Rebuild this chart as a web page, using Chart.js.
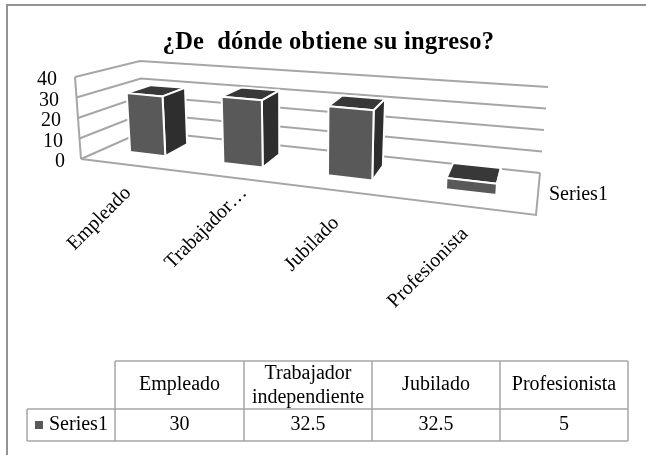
<!DOCTYPE html>
<html><head><meta charset="utf-8">
<style>html,body{margin:0;padding:0;background:#fff}#w{width:646px;height:455px;position:relative}canvas{filter:blur(.45px)}</style>
<script src="https://cdn.jsdelivr.net/npm/chart.js@4"></script></head>
<body><div id="w"><canvas id="c" width="646" height="455"></canvas></div>
<script>
const categories=['Empleado','Trabajador independiente','Jubilado','Profesionista'];
const axisLabels=['Empleado','Trabajador…','Jubilado','Profesionista'];
const series1=[30,32.5,32.5,5];
const tableValues=['30','32.5','32.5','5'];
const seriesName='Series1';
const titleText='¿De  dónde obtiene su ingreso?';

const SERIF='"Liberation Serif","Times New Roman",serif';
const C={FLB:[81,159],FRB:[536,215],BRB:[540,173],BLB:[144,131],FLT:[75,77],FRT:[541,120],BRT:[548,87],BLT:[140,61]};
const K=1.27,Z0=.36,Z1=.76;
const lerp=(a,b,t)=>a+(b-a)*t;
function proj(t,h,z){
  const X=t/(t+K*(1-t));
  return [0,1].map(i=>{
    const fb=lerp(C.FLB[i],C.FRB[i],X),bb=lerp(C.BLB[i],C.BRB[i],X);
    const ft=lerp(C.FLT[i],C.FRT[i],X),bt=lerp(C.BLT[i],C.BRT[i],X);
    return lerp(lerp(fb,bb,z),lerp(ft,bt,z),h);
  });
}
function poly(ctx,pts,fill,stroke,lw){
  ctx.beginPath();pts.forEach((p,i)=>i?ctx.lineTo(p[0],p[1]):ctx.moveTo(p[0],p[1]));ctx.closePath();
  if(fill){ctx.fillStyle=fill;ctx.fill();}
  if(stroke){ctx.strokeStyle=stroke;ctx.lineWidth=lw;ctx.lineJoin='round';ctx.stroke();}
}
function line(ctx,pts,color,lw){
  ctx.beginPath();pts.forEach((p,i)=>i?ctx.lineTo(p[0],p[1]):ctx.moveTo(p[0],p[1]));
  ctx.strokeStyle=color;ctx.lineWidth=lw;ctx.lineCap='butt';ctx.lineJoin='miter';ctx.stroke();
}
const GRID='#a6a6a6';
const labelEnds=[[128,190],[244,190],[336,220],[465,231]];
const tableX=[27,115,244,372,500,628],tableY=[361,409,441];

const p3d={id:'p3d',
  afterLayout(chart){
    const tb=chart.titleBlock;
    if(tb&&!tb._wrapped){
      tb._wrapped=true;
      const d=tb.draw;
      tb.draw=function(){const c=this.ctx;c.save();c.letterSpacing='.3px';d.apply(this,arguments);c.restore();};
    }
    if(tb){tb.left+=50;tb.right+=50;}
  },
  beforeDraw(chart){
    const ys=chart.scales.y;
    if(ys._slanted)return;
    ys._slanted=true;
    const items=ys.getLabelItems(chart.chartArea);
    items.forEach((it,i)=>{
      it.options.translation[0]-=8*(ys.ticks[i].value/40);
      it.options.translation[1]+=1.5;
    });
  },
  beforeDatasetsDraw(chart){
    const ctx=chart.ctx,ys=chart.scales.y;
    const hOf=v=>(ys.bottom-ys.getPixelForValue(v))/(ys.bottom-ys.top);
    ctx.save();
    ys.ticks.forEach(tk=>{
      const h=hOf(tk.value);
      line(ctx,[proj(0,h,0),proj(0,h,1),proj(1,h,1)],GRID,2);
    });
    line(ctx,[proj(0,0,0),proj(0,1,0)],GRID,2);
    line(ctx,[proj(0,0,0),proj(1,0,0),proj(1,0,1)],GRID,2);
    ctx.restore();
  },
  beforeDatasetDraw(chart,args){
    const ctx=chart.ctx,xs=chart.scales.x,ys=chart.scales.y;
    const W=xs.right-xs.left,H=ys.bottom-ys.top;
    ctx.save();
    chart.getDatasetMeta(args.index).data.forEach(b=>{
      const t0=(b.x-b.width/2-xs.left)/W,t1=(b.x+b.width/2-xs.left)/W;
      const h0=(ys.bottom-b.base)/H,h1=(ys.bottom-b.y)/H;
      const v=proj;
      poly(ctx,[v(t0,h1,Z0),v(t1,h1,Z0),v(t1,h1,Z1),v(t0,h1,Z1)],'#383838','#fff',2);
      poly(ctx,[v(t1,h0,Z0),v(t1,h1,Z0),v(t1,h1,Z1),v(t1,h0,Z1)],'#2e2e2e','#fff',2);
      poly(ctx,[v(t0,h0,Z0),v(t1,h0,Z0),v(t1,h1,Z0),v(t0,h1,Z0)],'#595959','#fff',2);
    });
    ctx.restore();
    return false;
  },
  afterDraw(chart){
    const ctx=chart.ctx;
    ctx.save();
    ctx.fillStyle='#000';ctx.font='20px '+SERIF;
    axisLabels.forEach((s,i)=>{
      ctx.save();ctx.translate(labelEnds[i][0],labelEnds[i][1]);ctx.rotate(-Math.PI/4);
      ctx.textAlign='right';ctx.textBaseline='middle';ctx.fillText(s,0,0);ctx.restore();
    });
    ctx.textAlign='left';ctx.textBaseline='middle';ctx.fillText(seriesName,549,195);
    ctx.strokeStyle=GRID;ctx.lineWidth=1.5;ctx.beginPath();
    ctx.moveTo(tableX[1],tableY[0]);ctx.lineTo(tableX[5],tableY[0]);
    ctx.moveTo(tableX[0],tableY[1]);ctx.lineTo(tableX[5],tableY[1]);
    ctx.moveTo(tableX[0],tableY[2]);ctx.lineTo(tableX[5],tableY[2]);
    ctx.moveTo(tableX[0],tableY[1]);ctx.lineTo(tableX[0],tableY[2]);
    tableX.slice(1).forEach(x=>{ctx.moveTo(x,tableY[0]);ctx.lineTo(x,tableY[2]);});
    ctx.stroke();
    ctx.textAlign='center';
    categories.forEach((s,i)=>{
      const cx=(tableX[i+1]+tableX[i+2])/2,my=(tableY[0]+tableY[1])/2;
      const words=s.split(' ');
      if(words.length>1){ctx.fillText(words[0],cx,my-11);ctx.fillText(words[1],cx,my+13);}
      else ctx.fillText(s,cx,my);
      ctx.fillText(tableValues[i],cx,(tableY[1]+tableY[2])/2);
    });
    ctx.fillStyle='#595959';ctx.fillRect(35,421,8,8);
    ctx.fillStyle='#000';ctx.textAlign='left';ctx.fillText(seriesName,49,(tableY[1]+tableY[2])/2);
    ctx.strokeStyle='#939393';ctx.lineWidth=2;ctx.beginPath();
    ctx.moveTo(646,5);ctx.lineTo(7,5);ctx.lineTo(7,455);ctx.stroke();
    ctx.restore();
  }
};
new Chart(document.getElementById('c'),{
  type:'bar',
  data:{labels:axisLabels,datasets:[{label:seriesName,data:series1,backgroundColor:'#595959',barPercentage:.39,categoryPercentage:1}]},
  plugins:[p3d],
  options:{
    responsive:false,animation:false,
    layout:{padding:{left:21,right:110,bottom:0,top:0}},
    plugins:{legend:{display:false},tooltip:{enabled:false},
      title:{display:true,text:titleText,color:'#000',font:{family:SERIF,size:24.5,weight:'bold',lineHeight:1.2},padding:{top:28,bottom:21}}},
    scales:{
      x:{grid:{display:false},border:{display:false},ticks:{display:false},afterFit(s){s.height=294.5;}},
      y:{min:0,max:40,afterFit(s){s.width=60;},grid:{display:false},border:{display:false},
         ticks:{stepSize:10,autoSkip:false,color:'#000',padding:8,font:{family:SERIF,size:20}}}
    }
  }
});
</script></body></html>
